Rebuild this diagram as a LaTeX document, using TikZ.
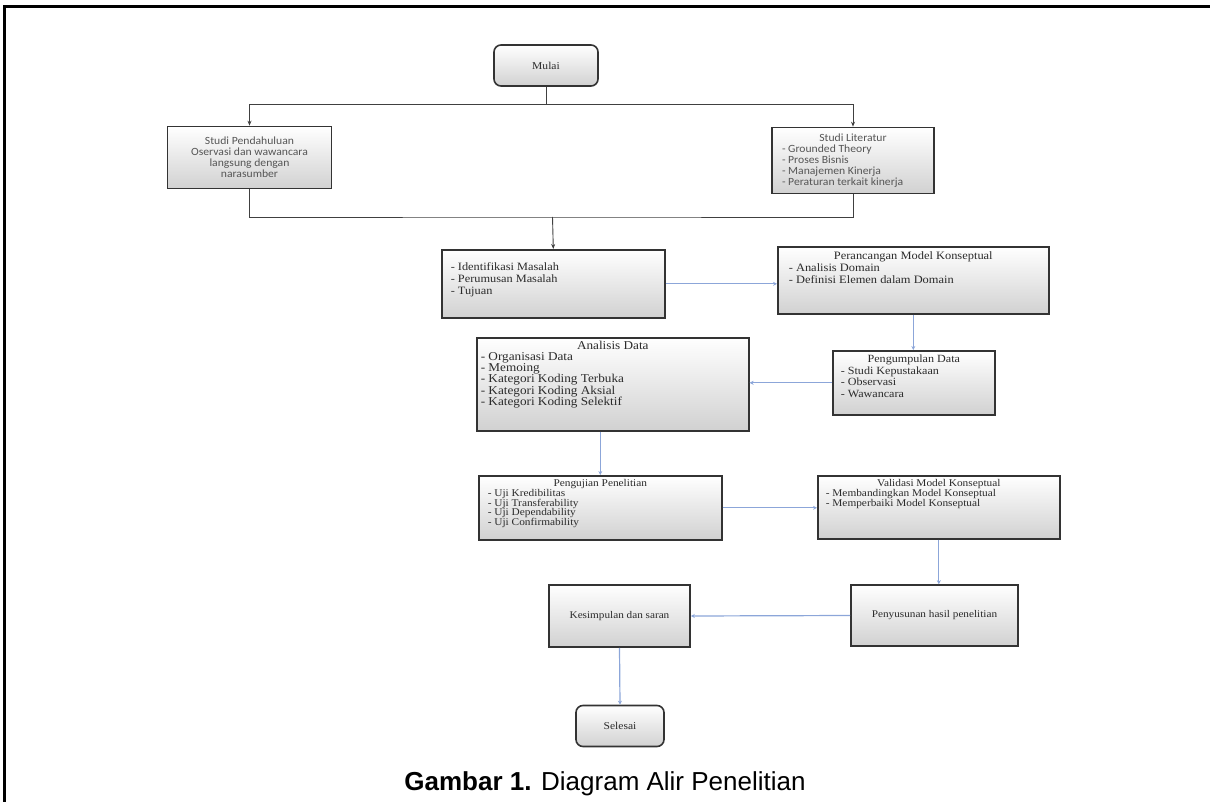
\documentclass[tikz,border=0pt]{standalone}
\usepackage{fontspec}
\setmainfont{Liberation Serif}[FakeStretch=1.1]
\newfontfamily\calibrifont{Carlito}[FakeStretch=1.06]
\newfontfamily\captionfont{Liberation Sans}
\usetikzlibrary{arrows.meta}
\definecolor{linkblue}{HTML}{8CA6D9}
\definecolor{boxline}{HTML}{333333}
\definecolor{boxtext}{HTML}{2B2B2B}
\definecolor{sanstext}{HTML}{555555}

\begin{document}
\begin{tikzpicture}[
  x=1pt, y=-1pt,
  flowbox/.style={draw=boxline, line width=1.6pt, top color=white, bottom color=black!18, inner sep=0pt, text=boxtext},
  termbox/.style={flowbox, rounded corners=7pt},
  blackflow/.style={draw=black!75, line width=0.9pt},
  blackarrow/.style={blackflow, -{Stealth[length=5pt, width=4pt]}},
  bluearrow/.style={draw=linkblue, line width=1.2pt, -{Stealth[length=4pt, width=4pt]}}
]
\useasboundingbox (0,0) rectangle (1210,802);

% frame
\draw[line width=3pt] (4,802) -- (4,7) -- (1210,7);

% start and first row
\node[termbox, minimum width=104pt, minimum height=41pt, font=\fontsize{10.5}{12}\selectfont] (mulai) at (546,65.5) {Mulai};

\node[flowbox, text=sanstext] (sp) at (249.5,157.5)
  {\parbox[c][62pt][c]{164pt}{\centering\calibrifont\fontsize{11}{11}\selectfont
   Studi Pendahuluan\\ Oservasi dan wawancara\\ langsung dengan\\ narasumber}};
\node[flowbox, text=sanstext, inner xsep=10pt] (sl) at (853,160.5)
  {\parbox[c][66pt][c]{142pt}{\calibrifont\fontsize{11}{11}\selectfont
   \hfill Studi Literatur\hfill\null\\ - Grounded Theory\\ - Proses Bisnis\\ - Manajemen Kinerja\\ - Peraturan terkait kinerja}};

% second row
\node[flowbox, anchor=north west, inner xsep=9pt] (idf) at (441,249)
  {\parbox[c][68pt][t]{205pt}{\fontsize{11.2}{12}\selectfont
   \rule{0pt}{21pt}- Identifikasi Masalah\\ - Perumusan Masalah\\ - Tujuan}};
\node[flowbox, anchor=north west, inner xsep=11pt] (per) at (777,246)
  {\parbox[c][67pt][t]{249pt}{\fontsize{11.3}{12}\selectfont
   \rule{0pt}{12.5pt}\hfill Perancangan Model Konseptual\hfill\null\\ - Analisis Domain\\ - Definisi Elemen dalam Domain}};

% third row
\node[flowbox, anchor=north west, inner xsep=8pt] (png) at (832,350)
  {\parbox[c][64pt][t]{146pt}{\fontsize{11}{11.8}\selectfont
   \rule{0pt}{11.5pt}\hfill Pengumpulan Data\hfill\null\\ - Studi Kepustakaan\\ - Observasi\\ - Wawancara}};
\node[flowbox, anchor=north west, inner xsep=4pt] (ana) at (476,337)
  {\parbox[c][93pt][t]{264pt}{\fontsize{12}{11.2}\selectfont
   \rule{0pt}{11.5pt}\hfill Analisis Data\hfill\null\\ - Organisasi Data\\ - Memoing\\ - Kategori Koding Terbuka\\ - Kategori Koding Aksial\\ - Kategori Koding Selektif}};

% fourth row
\node[flowbox, anchor=north west, inner xsep=9pt] (uji) at (478,475)
  {\parbox[c][64pt][t]{225pt}{\fontsize{10.3}{9.7}\selectfont
   \rule{0pt}{11pt}\hfill Pengujian Penelitian\hfill\null\\ - Uji Kredibilitas\\ - Uji Transferability\\ - Uji Dependability\\ - Uji Confirmability}};
\node[flowbox, anchor=north west, inner xsep=8pt] (val) at (817,475)
  {\parbox[c][63pt][t]{226pt}{\fontsize{10.3}{10}\selectfont
   \rule{0pt}{11pt}\hfill Validasi Model Konseptual\hfill\null\\ - Membandingkan Model Konseptual\\ - Memperbaiki Model Konseptual}};

% last rows
\node[flowbox, minimum width=167pt, minimum height=61pt, font=\fontsize{10.2}{12}\selectfont] (pny) at (934.5,615.5) {Penyusunan hasil penelitian};
\node[flowbox, minimum width=141pt, minimum height=62pt, font=\fontsize{10.2}{12}\selectfont] (kes) at (619.5,616) {Kesimpulan dan saran};
\node[termbox, minimum width=88pt, minimum height=41pt, font=\fontsize{10.5}{12}\selectfont] (sel) at (620,726) {Selesai};

% black connectors
\draw[blackarrow] (mulai.south) -- ++(0,18) -| (sp.north);
\draw[blackarrow] (mulai.south) -- ++(0,18) -| (sl.north);
\coordinate (merge) at (552.5,217);
\draw[blackflow] (sp.south) |- (merge) -| (sl.south);
\draw[blackarrow] (merge) -- (idf.north);

% blue connectors
\draw[bluearrow] (idf.east) -- (idf.east -| per.west);
\draw[bluearrow] (per.south) -- (per.south |- png.north);
\draw[bluearrow] (png.west) -- (png.west -| ana.east);
\draw[bluearrow] (uji.north |- ana.south) -- (uji.north);
\draw[bluearrow] (uji.east) -- (uji.east -| val.west);
\draw[bluearrow] (val.south) -- (val.south |- pny.north);
\draw[bluearrow] (pny.west) -- (kes.east);
\draw[bluearrow] (kes.south) -- (sel.north);

% caption
\node[font=\captionfont\fontsize{26}{30}\selectfont] (cap) at (605,784) {\textbf{Gambar 1.} Diagram Alir Penelitian};

\end{tikzpicture}
\end{document}
